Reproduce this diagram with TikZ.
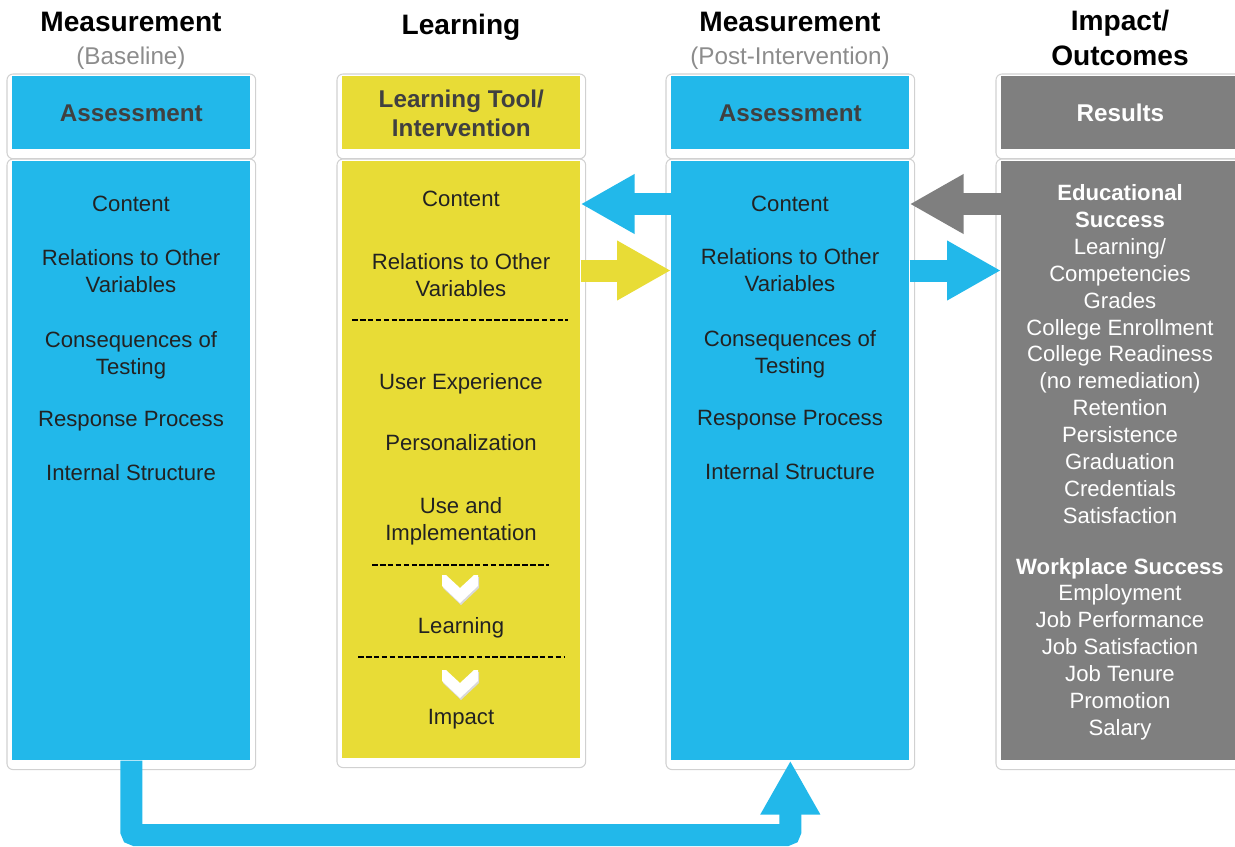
\documentclass[tikz,border=0pt]{standalone}
\usepackage{fontspec}
\setmainfont{Liberation Sans}
\usepackage{tikz}
\usetikzlibrary{arrows.meta,positioning,calc}
\definecolor{skyblue}{HTML}{22B8EA}
\definecolor{mustard}{HTML}{E8DC36}
\definecolor{slate}{HTML}{7F7F7F}
\definecolor{inkgray}{HTML}{404040}
\definecolor{softgray}{HTML}{8C8C8C}
\definecolor{bodyink}{HTML}{222222}
\tikzstyle{headbox}=[anchor=north west,minimum width=4.76cm,minimum height=1.46cm,inner sep=0pt,font=\bfseries\fontsize{13.8}{16.5}\selectfont,text=inkgray,align=center]
\tikzstyle{bodybox}=[anchor=north west,minimum width=4.76cm,minimum height=11.98cm,inner sep=0pt]
\tikzstyle{title}=[font=\bfseries\fontsize{16}{19.9}\selectfont,align=center,inner sep=0pt]
\tikzstyle{subtitle}=[font=\fontsize{13.8}{16}\selectfont,text=softgray,inner sep=0pt]
\tikzstyle{item}=[font=\fontsize{12.6}{15.4}\selectfont,text=bodyink,align=center,inner sep=0pt]
\tikzstyle{result}=[font=\fontsize{12.6}{15.3}\selectfont,text=white,align=center,inner sep=0pt]
\tikzstyle{frame}=[draw=black!18,line width=0.6pt,rounded corners=0.12cm]
\tikzstyle{band}=[line width=0.44cm,-{Triangle[length=1.08cm,width=1.12cm]}]
\tikzstyle{sepline}=[line width=0.8pt,dash pattern=on 3.2pt off 1.3pt]
\tikzstyle{chevron}=[fill=white]

\begin{document}
\begin{tikzpicture}[x=0.02cm,y=-0.02cm]
      \useasboundingbox (0,0) rectangle (1235,846);
      % column boxes
      \node[headbox,fill=skyblue] at (12,76) (head1) {Assessment};
      \node[bodybox,fill=skyblue] at (12,161) (body1) {};
      \node[headbox,fill=mustard] at (342,76) (head2) {Learning Tool/\\Intervention};
      \node[bodybox,fill=mustard,minimum height=11.94cm] at (342,161) (body2) {};
      \node[headbox,fill=skyblue] at (671,76) (head3) {Assessment};
      \node[bodybox,fill=skyblue] at (671,161) (body3) {};
      \node[headbox,fill=slate,text=white] at (1001,76) (head4) {Results};
      \node[bodybox,fill=slate] at (1001,161) (body4) {};
      \foreach \n in {head1,body1,head2,body2,head3,body3,head4,body4}
        \draw[frame] ($(\n.north west)+(-5,-2)$) rectangle ($(\n.south east)+(5,9)$);
      % titles
      \node[title] at (131,22) (meas1) {Measurement};
      \node[subtitle] at (131,58.5) (base) {(Baseline)};
      \node[title] at (461,27.5) (learn) {Learning};
      \node[title] at (790,22) (meas3) {Measurement};
      \node[subtitle] at (790,58.5) (post) {(Post-Intervention)};
      \node[title] at (1120,37.5) (impact) {Impact/\\Outcomes};
      % baseline measurement
      \node[item] at (131,204) (cont1) {Content};
      \node[item] at (131,271.5) (rel1) {Relations to Other\\Variables};
      \node[item] at (131,355) (cons1) {Consequences of\\Testing};
      \node[item] at (131,421.5) (resp1) {Response Process};
      \node[item] at (131,473) (int1) {Internal Structure};
      % learning tool
      \node[item] at (461,199) (cont2) {Content};
      \node[item] at (461,275) (rel2) {Relations to Other\\Variables};
      \draw[sepline] (352,320) -- (568,320);
      \node[item] at (461,383.5) (ux2) {User Experience};
      \node[item] at (461,443) (pers2) {Personalization};
      \node[item] at (461,521) (use2) {Use and\\Implementation};
      \draw[sepline] (372,565) -- (549,565);
      \node[item] at (461,627.5) (lrn2) {Learning};
      \draw[sepline] (358,657) -- (564,657);
      \node[item] at (461,719.5) (imp2) {Impact};
      \foreach \y in {575,670} {
        \fill[black!15] (443,\y+2) -- (447,\y+2) -- (461,\y+15) -- (475,\y+2) -- (479,\y+2) -- (479,\y+13) -- (461,\y+30) -- (443,\y+13) -- cycle;
        \fill[chevron] (442,\y) -- (446,\y) -- (460,\y+13) -- (474,\y) -- (478,\y) -- (478,\y+11) -- (460,\y+28) -- (442,\y+11) -- cycle;
      }
      % post-intervention measurement
      \node[item] at (790,204) (cont3) {Content};
      \node[item] at (790,270.5) (rel3) {Relations to Other\\Variables};
      \node[item] at (790,354.5) (cons3) {Consequences of\\Testing};
      \node[item] at (790,420.5) (resp3) {Response Process};
      \node[item] at (790,472) (int3) {Internal Structure};
      % outcomes
      \node[result] at (1120,354) (edu4) {\textbf{Educational}\\\textbf{Success}\\Learning/\\Competencies\\Grades\\College Enrollment\\College Readiness\\(no remediation)\\Retention\\Persistence\\Graduation\\Credentials\\Satisfaction};
      \node[result] at (1120,649) (work4) {\textbf{Workplace Success}\\Employment\\Job Performance\\Job Satisfaction\\Job Tenure\\Promotion\\Salary};
      % connectors
      \draw[band,skyblue] (body3.west |- cont3) -- (body2.east |- cont3);
      \draw[band,mustard] (body2.east |- rel3) -- (body3.west |- rel3);
      \draw[band,slate] (body4.west |- cont3) -- (body3.east |- cont3);
      \draw[band,skyblue] (body3.east |- rel3) -- (body4.west |- rel3);
      \coordinate (loop) at (460,835);
      \draw[band,skyblue,rounded corners=0.08cm] (body1.south) -- (body1.south |- loop) -- (body3.south |- loop) -- (body3.south);
\end{tikzpicture}
\end{document}
